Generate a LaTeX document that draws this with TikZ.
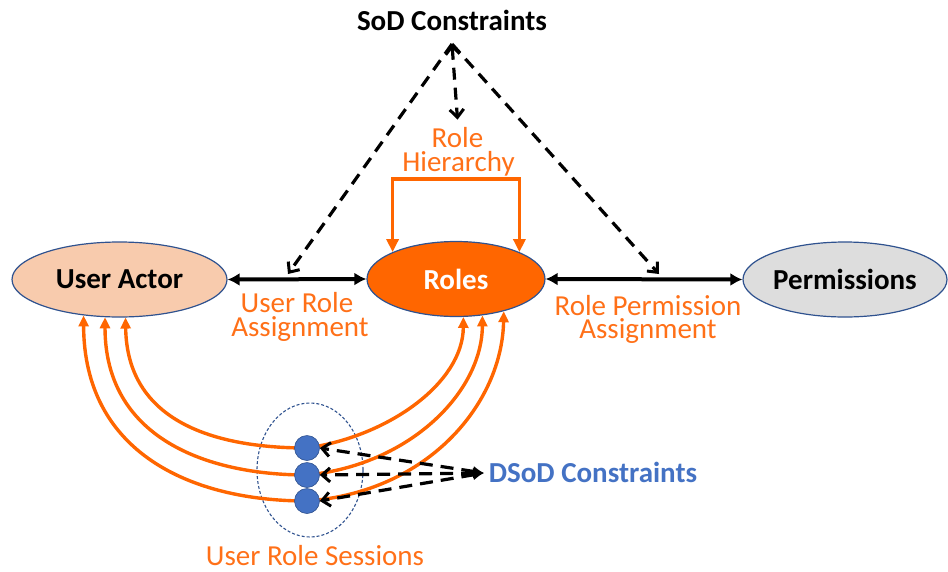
\documentclass[tikz,border=0pt]{standalone}
\usepackage{fontspec}
\setmainfont{Carlito}
\usetikzlibrary{arrows.meta,shapes.geometric,calc}

\definecolor{orng}{RGB}{255,102,0}
\definecolor{otext}{RGB}{255,112,24}
\definecolor{peach}{RGB}{248,203,173}
\definecolor{permfill}{RGB}{221,221,221}
\definecolor{edgeblue}{RGB}{47,82,143}
\definecolor{dblue}{RGB}{68,114,196}

\begin{document}
\begin{tikzpicture}[x=1pt,y=-1pt,
  bigfont/.style={font=\fontsize{29}{24}\selectfont},
  entity/.style={ellipse, draw=edgeblue, line width=1.2pt, inner sep=0pt,
    font=\fontsize{29}{24}\selectfont\bfseries},
  olabel/.style={text=otext, align=center, inner sep=0pt, bigfont},
  link/.style={draw=black, line width=4pt, {Latex[length=12pt,width=13pt]}-{Latex[length=12pt,width=13pt]}},
  barb/.tip={Straight Barb[length=8pt,width=14pt,line width=3pt]},
  sodline/.style={draw=black, line width=3.2pt, dash pattern=on 12pt off 8pt, -barb},
  sess/.style={draw=orng, line width=3.4pt, -{Triangle[length=11pt,width=10pt]}},
  hier/.style={draw=orng, line width=3.6pt,
    {Triangle[length=13pt,width=12pt]}-{Triangle[length=13pt,width=12pt]}},
  dot/.style={circle, fill=dblue, draw=edgeblue, line width=0.6pt,
    minimum size=25pt, inner sep=0pt},
  dsod/.style={draw=black, line width=3.2pt, dash pattern=on 13pt off 8pt,
    {Latex[length=11pt,width=11pt]}-barb}
]
\useasboundingbox (0,0) rectangle (948,571);

% main entities
\node[entity, fill=peach, minimum width=215pt, minimum height=75pt] (ua) at (119.5,279.5) {User Actor};
\node[entity, fill=orng, text=white, minimum width=178pt, minimum height=75pt] (roles) at (456,279) {Roles};
\node[entity, fill=permfill, minimum width=204pt, minimum height=75pt] (perm) at (845,279.5) {Permissions};

% assignment links
\draw[link] (ua.east) -- (roles.west);
\draw[link] (roles.east) -- (perm.west);

% static separation of duty
\node[font=\fontsize{29}{24}\selectfont\bfseries, inner sep=0pt, anchor=base] (sod) at (452,30) {SoD Constraints};
\coordinate (apex) at (452,44);
\coordinate (uraHit) at (288,274);
\coordinate (rpaHit) at (659,274);
\draw[sodline] (apex) -- (uraHit);
\draw[sodline] (apex) -- (rpaHit);

% role hierarchy
\node[olabel, anchor=base] (rhA) at (457.5,147) {Role};
\node[olabel, anchor=base] (rhB) at (458.5,171) {Hierarchy};
\draw[sodline, barb-barb] (apex) -- ($(rhA.north)+(0,-7)$);
\coordinate (hb) at (456,179);
\draw[hier] (roles.157) |- (hb) -| (roles.23);

% assignment labels
\node[olabel, anchor=base] (uraA) at (297,312) {User Role};
\node[olabel, anchor=base] (uraB) at (300,336) {Assignment};
\node[olabel, anchor=base] (rpaA) at (648,315) {Role Permission};
\node[olabel, anchor=base] (rpaB) at (648,338) {Assignment};

% user role sessions
\coordinate (c1) at (307,448);
\coordinate (c2) at (307,475);
\coordinate (c3) at (307,501);
\draw[draw=edgeblue, line width=1.1pt, dash pattern=on 3pt off 2pt] (310,470) ellipse [x radius=53, y radius=67];

\draw[sess] (c1) .. controls (215,448) and (127,422) .. (ua.-81.6);
\draw[sess] (c2) .. controls (205,475) and (105,437) .. (ua.-111.3);
\draw[sess] (c3) .. controls (190,501) and (84,452) .. (ua.-135);
\draw[sess] (c1) .. controls (390,436) and (463,382) .. (roles.-79.4);
\draw[sess] (c2) .. controls (410,465) and (482,392) .. (roles.-54.1);
\draw[sess] (c3) .. controls (430,492) and (502,402) .. (roles.-34.9);

\node[dot] (s1) at (c1) {};
\node[dot] (s2) at (c2) {};
\node[dot] (s3) at (c3) {};

% dynamic separation of duty
\coordinate (dc) at (484,473);
\draw[dsod] (dc) -- (s1.east);
\draw[dsod] (dc) -- (s2.east);
\draw[dsod] (dc) -- (s3.east);
\node[font=\fontsize{29}{24}\selectfont\bfseries, text=dblue, inner sep=0pt, anchor=base] (dsodT) at (593,482) {DSoD Constraints};
\node[olabel, anchor=base] (urs) at (315,565) {User Role Sessions};
\end{tikzpicture}
\end{document}
